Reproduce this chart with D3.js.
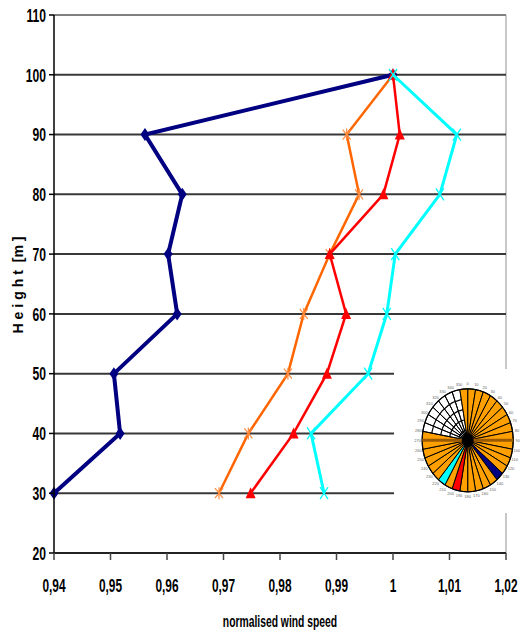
<!DOCTYPE html>
<html>
<head>
<meta charset="utf-8">
<script src="https://cdn.jsdelivr.net/npm/d3@7"></script>
<style>
  html, body { margin: 0; padding: 0; background: #fff; }
  svg { display: block; }
  .lbl { font-family: 'Liberation Sans', Arial, sans-serif; font-weight: bold; fill: #000; }
</style>
</head>
<body>
<script>
// Heights of the measurement levels [m]
const heights = [100, 90, 80, 70, 60, 50, 40, 30];

// Normalised wind speed per height, one list per wind-direction group
const sector130 = [1.0000, 0.9561, 0.9627, 0.9602, 0.9618, 0.9506, 0.9517, 0.9400];
const otherSectors = [1.0000, 0.9918, 0.9940, 0.9888, 0.9842, 0.9814, 0.9744, 0.9692];
const sector190 = [1.0000, 1.0012, 0.9983, 0.9888, 0.9917, 0.9883, 0.9824, 0.9748];
const sector210 = [1.0000, 1.0113, 1.0083, 1.0004, 0.9989, 0.9956, 0.9855, 0.9878];

// Axis ticks
const yTicks = [20, 30, 40, 50, 60, 70, 80, 90, 100, 110];
const xTicks = [0.94, 0.95, 0.96, 0.97, 0.98, 0.99, 1.00, 1.01, 1.02];
const xTickLabels = ["0,94", "0,95", "0,96", "0,97", "0,98", "0,99", "1", "1,01", "1,02"];

// Wind rose: 10-degree sectors and the group each one belongs to
const roseDirections = [0, 10, 20, 30, 40, 50, 60, 70, 80, 90, 100, 110, 120, 130, 140, 150, 160, 170,
                        180, 190, 200, 210, 220, 230, 240, 250, 260, 270, 280, 290, 300, 310, 320, 330, 340, 350];
const roseGroups = ["other", "other", "other", "other", "other", "other", "other", "other", "other",
                    "other", "other", "other", "other", "s130", "other", "other", "other", "other",
                    "other", "s190", "other", "s210", "other", "other", "other", "other", "other",
                    "other", "open", "open", "open", "open", "open", "open", "open", "other"];

const W = 520, H = 632;
const x = d3.scaleLinear([0.94, 1.02], [54, 506]);
const y = d3.scaleLinear([20, 110], [553, 15]);

const svg = d3.select("body").append("svg").attr("width", W).attr("height", H);

// Plot frame (right side) and horizontal gridlines
svg.append("line").attr("x1", x(1.02)).attr("x2", x(1.02)).attr("y1", y(110)).attr("y2", y(20))
  .attr("stroke", "#c8c8c8").attr("stroke-width", 2);

svg.append("g").selectAll("line").data(yTicks.filter(v => v > 20)).join("line")
  .attr("x1", x(0.94)).attr("x2", x(1.02))
  .attr("y1", d => y(d)).attr("y2", d => y(d))
  .attr("stroke", d => d === 110 ? "#808080" : "#383838")
  .attr("stroke-width", 2);

// Series
const series = [
  { values: sector130, color: "#000080", width: 4, marker: "diamond" },
  { values: otherSectors, color: "#ff6600", width: 2.5, marker: "star" },
  { values: sector190, color: "#ff0000", width: 2.5, marker: "triangle" },
  { values: sector210, color: "#00ffff", width: 3, marker: "cross" }
];

const line = d3.line().x(d => x(d.v)).y(d => y(d.h));

series.forEach(s => {
  const pts = heights.map((h, i) => ({ h, v: s.values[i] }));
  const g = svg.append("g");
  g.append("path").datum(pts).attr("d", line)
    .attr("fill", "none").attr("stroke", s.color).attr("stroke-width", s.width)
    .attr("stroke-linejoin", "miter");
  const m = g.selectAll("g.m").data(pts).join("g")
    .attr("transform", d => `translate(${x(d.v)},${y(d.h)})`);
  if (s.marker === "diamond") {
    m.append("path").attr("d", "M0,-6.5L4.5,0L0,6.5L-4.5,0Z").attr("fill", s.color);
  } else if (s.marker === "triangle") {
    m.append("path").attr("d", "M0,-6L5,5L-5,5Z").attr("fill", s.color);
  } else if (s.marker === "star") {
    m.append("path").attr("d", "M-4,-5L4,5M4,-5L-4,5M0,-6L0,6")
      .attr("stroke", "#ff8c40").attr("stroke-width", 1.2).attr("fill", "none");
  } else {
    m.append("path").attr("d", "M-4,-6L4,6M4,-6L-4,6")
      .attr("stroke", s.color).attr("stroke-width", 1.3).attr("fill", "none");
  }
});

// Inset panel behind the wind rose
svg.append("rect").attr("x", 394).attr("y", 369).attr("width", 126).attr("height", 144).attr("fill", "#fff");

// Wind rose
const cx = 467.7, cy = 440.3, R = 50, rx = 45.5, ry = 51.5;
const ang = d3.scaleLinear([0, 360], [0, 2 * Math.PI]);
const rose = svg.append("g").attr("transform", `translate(${cx},${cy}) scale(${rx / R},${ry / R})`);
const groupFill = { other: "#ffa000", s130: "#000080", s190: "#ff0000", s210: "#00ffff", open: "none" };

// rings and spokes (visible in the open sectors)
[0.2, 0.4, 0.6, 0.8].forEach(f => {
  rose.append("circle").attr("r", R * f).attr("fill", "none").attr("stroke", "#000")
    .attr("stroke-width", 1.2).attr("vector-effect", "non-scaling-stroke");
});
const arc = d3.arc().innerRadius(0).outerRadius(R);
rose.selectAll("path.sec").data(roseDirections).join("path")
  .attr("class", "sec")
  .attr("d", (d, i) => arc({ startAngle: ang(d), endAngle: ang(d + 10) }))
  .attr("fill", (d, i) => groupFill[roseGroups[i]])
  .attr("stroke", "#000").attr("stroke-width", 1)
  .attr("vector-effect", "non-scaling-stroke");
rose.append("circle").attr("r", R).attr("fill", "none").attr("stroke", "#000")
  .attr("stroke-width", 1.2).attr("vector-effect", "non-scaling-stroke");
rose.append("line").attr("x1", -R).attr("x2", R).attr("y1", 0).attr("y2", 0)
  .attr("stroke", "#9a5a00").attr("stroke-width", 3).attr("vector-effect", "non-scaling-stroke");
rose.append("circle").attr("r", 6.5).attr("fill", "#000");

// direction labels
svg.append("g").selectAll("text").data(roseDirections).join("text")
  .attr("x", d => cx + (rx + 4.5) * Math.sin(ang(d)))
  .attr("y", d => cy - (ry + 5) * Math.cos(ang(d)))
  .attr("text-anchor", "middle").attr("dominant-baseline", "central")
  .attr("font-family", "Liberation Sans, Arial, sans-serif")
  .attr("font-size", 4).attr("fill", "#666")
  .text(d => d);

// Axes
svg.append("line").attr("x1", x(0.94)).attr("x2", x(0.94)).attr("y1", y(110)).attr("y2", y(20))
  .attr("stroke", "#000").attr("stroke-width", 1.5);
svg.append("line").attr("x1", x(0.94)).attr("x2", x(1.02)).attr("y1", y(20)).attr("y2", y(20))
  .attr("stroke", "#222").attr("stroke-width", 2);

svg.append("g").selectAll("line").data(yTicks).join("line")
  .attr("x1", x(0.94) - 5).attr("x2", x(0.94)).attr("y1", d => y(d)).attr("y2", d => y(d))
  .attr("stroke", "#000").attr("stroke-width", 1.5);
svg.append("g").selectAll("line").data(xTicks).join("line")
  .attr("x1", d => x(d)).attr("x2", d => x(d)).attr("y1", y(20)).attr("y2", y(20) + 7)
  .attr("stroke", "#444").attr("stroke-width", 1.5);

svg.append("g").selectAll("text").data(yTicks).join("text")
  .attr("class", "lbl").attr("font-size", 13.5)
  .attr("transform", d => `translate(46,${y(d)}) scale(0.9,1.4)`)
  .attr("text-anchor", "end").attr("dy", "0.36em")
  .text(d => d);

svg.append("g").selectAll("text").data(xTicks).join("text")
  .attr("class", "lbl").attr("font-size", 13.5)
  .attr("transform", d => `translate(${x(d)},585) scale(0.88,1.4)`)
  .attr("text-anchor", "middle").attr("dy", "0.36em")
  .text((d, i) => xTickLabels[i]);

svg.append("text").attr("class", "lbl").attr("font-size", 11.5)
  .attr("transform", "translate(280,621) scale(0.9,1.45)")
  .attr("text-anchor", "middle").attr("dy", "0.36em")
  .text("normalised wind speed");

svg.append("text").attr("class", "lbl").attr("font-size", 11)
  .attr("transform", "translate(18,285) rotate(-90) scale(1.28,1.3)")
  .attr("text-anchor", "middle").attr("dy", "0.36em")
  .style("white-space", "pre")
  .text("H e i g h t  [m ]");
</script>
</body>
</html>
